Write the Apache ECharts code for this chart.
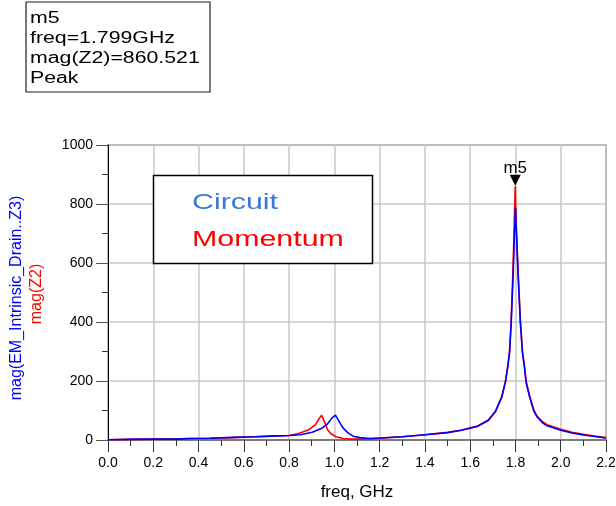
<!DOCTYPE html>
<html>
<head>
<meta charset="utf-8">
<script src="https://cdn.jsdelivr.net/npm/echarts@6/dist/echarts.min.js"></script>
<style>
	html, body { margin: 0; padding: 0; background: #fff; }
	#chart { width: 616px; height: 506px; }
</style>
</head>
<body>
<div id="chart"></div>
<script type="text/javascript">
// Momentum (red) - mag(Z2)
var momentumFreq = [0, 0.1, 0.2, 0.3, 0.36, 0.45, 0.55, 0.65, 0.72, 0.8, 0.842, 0.887, 0.917, 0.932, 0.944, 0.955, 0.97, 0.985, 1.008, 1.038, 1.075, 1.12, 1.16, 1.2, 1.3, 1.4, 1.5, 1.557, 1.631, 1.68, 1.712, 1.74, 1.756, 1.766, 1.774, 1.781, 1.79, 1.795, 1.799, 1.803, 1.81, 1.822, 1.831, 1.84, 1.847, 1.863, 1.881, 1.896, 1.92, 1.94, 2.0, 2.05, 2.1, 2.15, 2.2];
var momentumMag = [1, 2, 3, 3, 5, 6, 8, 11, 13, 15, 22, 35, 52, 72, 84, 64, 35, 21, 11, 5, 3, 3, 4, 6, 11, 18, 26, 33, 47, 68, 98, 148, 200, 250, 300, 400, 600, 740, 860.521, 740, 600, 400, 300, 250, 200, 148, 102, 80, 62, 52, 36, 26, 19, 13, 8];

// Circuit (blue) - mag(EM_Intrinsic_Drain..Z3)
var circuitFreq = [0, 0.1, 0.2, 0.3, 0.36, 0.45, 0.55, 0.65, 0.72, 0.8, 0.85, 0.902, 0.947, 0.97, 0.99, 1.005, 1.02, 1.038, 1.06, 1.083, 1.113, 1.16, 1.2, 1.3, 1.4, 1.5, 1.557, 1.631, 1.68, 1.712, 1.74, 1.756, 1.766, 1.774, 1.781, 1.79, 1.795, 1.8, 1.805, 1.811, 1.822, 1.831, 1.84, 1.847, 1.863, 1.881, 1.896, 1.92, 1.94, 2.0, 2.05, 2.1, 2.15, 2.2];
var circuitMag = [1, 2, 3, 3, 5, 6, 9, 11, 13, 15, 18, 26, 41, 55, 75, 84, 64, 41, 24, 13, 8, 5, 7, 11, 18, 25, 32, 46, 66, 97, 146, 198, 248, 298, 395, 560, 690, 786, 690, 570, 395, 295, 245, 195, 145, 98, 78, 58, 48, 33, 24, 17, 12, 7];

var xTicks = { min: 0, max: 2.2, interval: 0.2 };
var yTicks = { min: 0, max: 1000, interval: 200 };

function pairs(xs, ys) {
	var out = [];
	for (var i = 0; i < xs.length; i++) {
		out.push([xs[i], ys[i]]);
	}
	return out;
}

var font = '"Liberation Sans", Arial, sans-serif';

var option = {
	animation: false,
	grid: {
		left: 108, right: 10, top: 145, bottom: 66,
		outerBoundsMode: 'none',
		containLabel: false,
		show: true, borderColor: '#808080', borderWidth: 1.5, backgroundColor: 'transparent'
	},
	xAxis: {
		type: 'value',
		min: xTicks.min, max: xTicks.max, interval: xTicks.interval,
		name: 'freq, GHz', nameLocation: 'middle', nameGap: 44,
		nameTextStyle: { color: '#000', fontSize: 17, fontFamily: font },
		axisLine: { show: true, lineStyle: { color: '#666', width: 1.5 } },
		axisTick: { show: true, length: 12, lineStyle: { color: '#333' } },
		minorTick: { show: true, splitNumber: 2, length: 6, lineStyle: { color: '#333' } },
		axisLabel: { color: '#000', fontSize: 14, fontFamily: font, margin: 16,
			formatter: function (v) { return v.toFixed(1); } },
		splitLine: { show: true, lineStyle: { color: '#c8c8c8', width: 1.5 } }
	},
	yAxis: {
		type: 'value',
		min: yTicks.min, max: yTicks.max, interval: yTicks.interval,
		axisLine: { show: true, lineStyle: { color: '#000', width: 1 } },
		axisTick: { show: true, length: 12, lineStyle: { color: '#555' } },
		minorTick: { show: true, splitNumber: 2, length: 6, lineStyle: { color: '#333' } },
		axisLabel: { color: '#000', fontSize: 14, fontFamily: font, margin: 15,
			formatter: function (v) { return String(v); } },
		splitLine: { show: true, lineStyle: { color: '#c8c8c8', width: 1.5 } }
	},
	series: [
		{
			name: 'Momentum',
			type: 'line',
			data: pairs(momentumFreq, momentumMag),
			showSymbol: false,
			lineStyle: { color: '#ff0000', width: 1.6 },
			itemStyle: { color: '#ff0000' },
			markPoint: {
				symbol: 'triangle',
				symbolRotate: 180,
				symbolSize: [11, 11],
				symbolOffset: [0, -6],
				itemStyle: { color: '#000' },
				label: { show: true, position: 'top', formatter: 'm5', distance: -2,
					color: '#000', fontSize: 17, fontFamily: font },
				data: [{ name: 'm5', coord: [1.799, 860.521] }]
			}
		},
		{
			name: 'Circuit',
			type: 'line',
			data: pairs(circuitFreq, circuitMag),
			showSymbol: false,
			lineStyle: { color: '#0000ff', width: 1.6 },
			itemStyle: { color: '#0000ff' }
		}
	],
	graphic: [
		// marker readout
		{ type: 'rect', shape: { x: 26, y: 2, width: 184, height: 90 },
			style: { fill: '#fff', stroke: '#222', lineWidth: 1.2 } },
		{ type: 'text', x: 30, y: 9, scaleX: 1.33,
			style: { text: 'm5\nfreq=1.799GHz\nmag(Z2)=860.521\nPeak', fill: '#000',
				fontSize: 16, fontFamily: font, lineHeight: 20, verticalAlign: 'top' } },
		// legend box
		{ type: 'rect', z: 10, shape: { x: 153.5, y: 175.5, width: 219, height: 88 },
			style: { fill: '#fff', stroke: '#000', lineWidth: 1.5 } },
		{ type: 'text', z: 11, x: 192, y: 192, scaleX: 1.38, scaleY: 1,
			style: { text: 'Circuit', fill: '#3b78d2', fontSize: 22, fontFamily: font,
				fontWeight: 'normal', verticalAlign: 'top' } },
		{ type: 'text', z: 11, x: 192, y: 229, scaleX: 1.38, scaleY: 1,
			style: { text: 'Momentum', fill: '#ff0000', fontSize: 22, fontFamily: font,
				fontWeight: 'normal', verticalAlign: 'top' } },
		// y axis names
		{ type: 'text', x: 17, y: 298, rotation: Math.PI / 2,
			style: { text: 'mag(EM_Intrinsic_Drain..Z3)', fill: '#0000ff', fontSize: 16, fontFamily: font,
				align: 'center', verticalAlign: 'middle' } },
		{ type: 'text', x: 37, y: 294, rotation: Math.PI / 2,
			style: { text: 'mag(Z2)', fill: '#ff0000', fontSize: 16, fontFamily: font,
				align: 'center', verticalAlign: 'middle' } }
	]
};

var myChart = echarts.init(document.getElementById('chart'));
myChart.setOption(option);
</script>
</body>
</html>
